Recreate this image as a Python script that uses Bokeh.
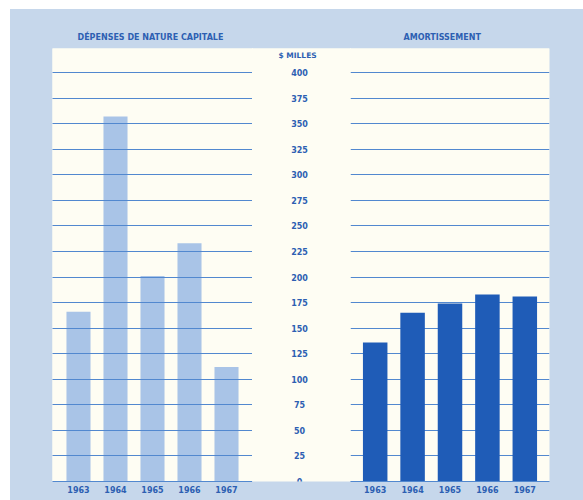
from bokeh.plotting import figure
from bokeh.layouts import row, column
from bokeh.models import FactorRange, Range1d, FixedTicker, Spacer, ColumnDataSource, LabelSet, Label
from bokeh.core.properties import value
from bokeh.embed import file_html
from bokeh.resources import INLINE

years = ["1963", "1964", "1965", "1966", "1967"]
depenses = [166, 357, 201, 233, 112]
amortissement = [136, 165, 174, 183, 181]
tick_values = list(range(0, 401, 25))
tick_labels = [str(v) for v in tick_values]
title_left = "DÉPENSES DE NATURE CAPITALE"
title_right = "AMORTISSEMENT"
unit_label = "$ MILLES"

BG = "#c6d7eb"
PANEL = "#fefdf3"
TEXT = "#2d5fb2"
GRID = "#5288cf"
LIGHT = "#a9c4e7"
DARK = "#1f5cb7"
FONT = "DejaVu Sans"

Y_TOP = 423.5
TOP_PAD = 39


def bar_panel(vals, color, title, width, left, right, pad, bw, title_offset):
    p = figure(width=width, height=491, x_range=FactorRange(*years, range_padding=pad),
               y_range=Range1d(0, Y_TOP), output_backend="svg", toolbar_location=None,
               min_border_left=left, min_border_right=right, min_border_top=TOP_PAD,
               min_border_bottom=19, background_fill_color=PANEL, border_fill_color=BG,
               outline_line_color=None, title=title)
    p.title.align = "left"
    p.title.offset = title_offset
    p.title.text_font = FONT
    p.title.text_font_size = "8px"
    p.title.text_font_style = "bold"
    p.title.text_color = TEXT
    p.title.standoff = 13
    src = ColumnDataSource(dict(x=years, top=vals))
    p.vbar(x="x", top="top", bottom=0, width=bw, source=src, color=color, line_color=None)
    p.xgrid.visible = False
    p.ygrid.ticker = FixedTicker(ticks=tick_values[1:])
    p.ygrid.grid_line_color = GRID
    p.ygrid.grid_line_width = 1.2
    p.ygrid.level = "overlay" if color == LIGHT else "underlay"
    p.yaxis.visible = False
    ax = p.xaxis[0]
    ax.axis_line_color = GRID
    ax.axis_line_width = 1.2
    ax.major_tick_line_color = None
    ax.minor_tick_line_color = None
    ax.major_label_text_font = FONT
    ax.major_label_text_font_size = "8px"
    ax.major_label_text_font_style = "bold"
    ax.major_label_text_color = TEXT
    ax.major_label_standoff = -2
    return p


left = bar_panel(depenses, LIGHT, title_left, 242, 42, 0, 0.081, 0.65, 25)
right = bar_panel(amortissement, DARK, title_right, 233, 0, 34, 0.064, 0.655, 53)

center = figure(width=98, height=491, x_range=Range1d(-1, 1), y_range=Range1d(0, Y_TOP),
                output_backend="svg", toolbar_location=None, min_border_left=0,
                min_border_right=0, min_border_top=TOP_PAD, min_border_bottom=19,
                background_fill_color=PANEL, border_fill_color=BG, outline_line_color=None)
center.axis.visible = False
center.grid.visible = False
csrc = ColumnDataSource(dict(x=[-0.04] * len(tick_values), y=tick_values, t=tick_labels))
center.add_layout(LabelSet(x="x", y="y", text="t", source=csrc, text_align="center",
                           text_baseline="middle", text_font=value(FONT),
                           text_font_size=value("8px"), text_font_style=value("bold"),
                           text_color=value(TEXT)))
center.add_layout(Label(x=-0.08, y=417, text=unit_label, text_align="center",
                        text_baseline="middle", text_font=FONT, text_font_size="7.5px",
                        text_font_style="bold", text_color=TEXT))

inner = row(left, center, right, styles={
    "background-color": BG,
    "background-image": f"linear-gradient({PANEL}, {PANEL})",
    "background-size": "497px 433px",
    "background-position": "42px 39px",
    "background-repeat": "no-repeat",
})
layout = column(Spacer(height=9, width=583), row(Spacer(width=10, height=491), inner))
open("out.html", "w").write(file_html(layout, INLINE))
